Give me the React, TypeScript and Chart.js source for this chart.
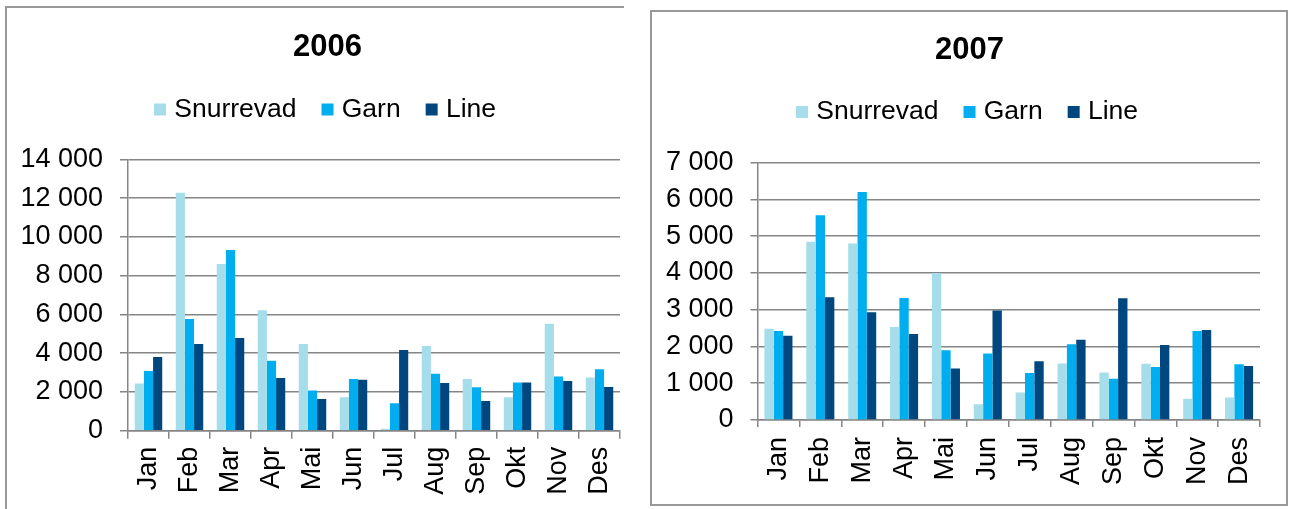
import React, { useEffect, useRef } from "react";
import { Chart, registerables } from "chart.js";

Chart.register(...registerables);

// ---------- data ----------
const months = ["Jan", "Feb", "Mar", "Apr", "Mai", "Jun", "Jul", "Aug", "Sep", "Okt", "Nov", "Des"];
const seriesNames = ["Snurrevad", "Garn", "Line"];
const seriesColors = ["#A5DEEA", "#00AEEF", "#00467F"];

const snurrevad2006 = [2430, 12280, 8600, 6210, 4470, 1720, 100, 4370, 2670, 1720, 5520, 2740];
const garn2006 = [3080, 5760, 9320, 3610, 2080, 2670, 1410, 2940, 2240, 2490, 2800, 3170];
const line2006 = [3800, 4470, 4780, 2720, 1630, 2630, 4160, 2460, 1530, 2490, 2560, 2250];

const snurrevad2007 = [2480, 4850, 4800, 2530, 4000, 430, 750, 1540, 1290, 1530, 580, 610];
const garn2007 = [2420, 5570, 6200, 3320, 1900, 1810, 1280, 2060, 1120, 1440, 2420, 1520];
const line2007 = [2290, 3340, 2930, 2340, 1400, 2980, 1600, 2180, 3310, 2040, 2450, 1470];

const yMax2006 = 14000;
const yStep2006 = 2000;
const yMax2007 = 7000;
const yStep2007 = 1000;

// ---------- styling ----------
const FONT = "'Liberation Sans', Arial, 'DejaVu Sans', sans-serif";
const GRID = "#858585";
const TICK_SIZE = 27;
const LEGEND_SIZE = 26.5;

const fmt = (v: number | string) => String(v).replace(/\B(?=(\d{3})+(?!\d))/g, " ");

type Layout = {
  width: number;
  height: number;
  yW: number;
  rightW: number;
  xH: number;
  spacer: number;
  titleTop: number;
  titleBottom: number;
  xPad: number;
  tickLen: number;
};

function legendLabels(chart: any) {
  const base = Chart.defaults.plugins.legend.labels.generateLabels(chart);
  // thin core box + wide stroke of the same colour -> a 12px square with a tight gap to the text
  return base.map((item: any) => ({
    ...item,
    lineWidth: 10,
    strokeStyle: item.fillStyle,
    lineJoin: "miter",
  }));
}

function makeConfig(title: string, values: number[][], yMax: number, yStep: number, L: Layout): any {
  return {
    type: "bar",
    data: {
      labels: months,
      datasets: seriesNames.map((name, i) => ({
        label: name,
        data: values[i],
        backgroundColor: seriesColors[i],
        borderWidth: 0,
        xAxisID: "x",
        yAxisID: "y",
        categoryPercentage: 0.67,
        barPercentage: 1,
      })),
    },
    options: {
      animation: false,
      responsive: false,
      maintainAspectRatio: false,
      devicePixelRatio: 1,
      events: [],
      layout: { padding: 0 },
      plugins: {
        title: {
          display: true,
          text: title,
          color: "#000",
          font: { family: FONT, size: 31, weight: "bold", lineHeight: 1.0 },
          padding: { top: L.titleTop, bottom: L.titleBottom },
        },
        legend: {
          display: true,
          position: "top",
          labels: {
            color: "#000",
            font: { family: FONT, size: LEGEND_SIZE },
            boxWidth: 2,
            boxHeight: 2,
            padding: 30,
            generateLabels: legendLabels,
          },
        },
        tooltip: { enabled: false },
      },
      scales: {
        x: {
          type: "category",
          position: "bottom",
          offset: true,
          grid: {
            display: true,
            drawOnChartArea: false,
            drawTicks: true,
            tickLength: L.tickLen,
            color: GRID,
            lineWidth: 1.5,
            offset: true,
          },
          border: { display: true, color: GRID, width: 1.5 },
          ticks: {
            color: "#000",
            font: { family: FONT, size: TICK_SIZE },
            minRotation: 90,
            maxRotation: 90,
            autoSkip: false,
            padding: L.xPad,
          },
          afterFit: (s: any) => {
            s.height = L.xH;
          },
        },
        xTop: {
          type: "category",
          position: "top",
          display: true,
          grid: { display: false },
          border: { display: false },
          ticks: { display: false },
          afterFit: (s: any) => {
            s.height = L.spacer;
          },
        },
        y: {
          type: "linear",
          position: "left",
          min: 0,
          max: yMax,
          ticks: {
            stepSize: yStep,
            color: "#000",
            font: { family: FONT, size: TICK_SIZE },
            padding: 17,
            callback: (v: number) => fmt(v),
          },
          grid: { color: GRID, lineWidth: 1.5, tickLength: L.tickLen, drawTicks: true },
          border: { display: true, color: GRID, width: 1.5 },
          afterFit: (s: any) => {
            s.width = L.yW;
          },
        },
        yRight: {
          type: "linear",
          position: "right",
          display: true,
          grid: { display: false },
          border: { display: false },
          ticks: { display: false },
          afterFit: (s: any) => {
            s.width = L.rightW;
          },
        },
      },
    },
  };
}

function BarChart(props: {
  title: string;
  values: number[][];
  yMax: number;
  yStep: number;
  layout: Layout;
  left: number;
  top: number;
}) {
  const ref = useRef<HTMLCanvasElement | null>(null);
  useEffect(() => {
    if (!ref.current) return;
    const chart = new Chart(ref.current, makeConfig(props.title, props.values, props.yMax, props.yStep, props.layout));
    return () => chart.destroy();
  }, []);
  const L = props.layout;
  return (
    <canvas
      ref={ref}
      width={L.width}
      height={L.height}
      style={{ position: "absolute", left: props.left, top: props.top, width: L.width, height: L.height }}
    />
  );
}

const layout2006: Layout = {
  width: 655,
  height: 509,
  yW: 128,
  rightW: 35,
  xH: 78.3,
  spacer: 26.55,
  titleTop: 31.5,
  titleBottom: 3.75,
  xPad: 8,
  tickLen: 8,
};

const layout2007: Layout = {
  width: 637,
  height: 509,
  yW: 106.5,
  rightW: 28,
  xH: 89,
  spacer: 27.45,
  titleTop: 34.5,
  titleBottom: 3.25,
  xPad: 10,
  tickLen: 7,
};

export default function App() {
  return (
    <div
      style={{
        position: "absolute",
        left: 0,
        top: 0,
        width: 1289,
        height: 509,
        overflow: "hidden",
        background: "#fff",
      }}
    >
      <div
        style={{
          position: "absolute",
          left: 5,
          top: 6,
          width: 660,
          height: 530,
          border: "2px solid #999",
          boxSizing: "border-box",
        }}
      />
      <BarChart
        title="2006"
        values={[snurrevad2006, garn2006, line2006]}
        yMax={yMax2006}
        yStep={yStep2006}
        layout={layout2006}
        left={0}
        top={0}
      />
      <div style={{ position: "absolute", left: 624, top: 0, width: 665, height: 509, background: "#fff" }} />
      <div
        style={{
          position: "absolute",
          left: 650,
          top: 10,
          width: 638,
          height: 496,
          border: "2px solid #999",
          boxSizing: "border-box",
        }}
      />
      <BarChart
        title="2007"
        values={[snurrevad2007, garn2007, line2007]}
        yMax={yMax2007}
        yStep={yStep2007}
        layout={layout2007}
        left={651}
        top={0}
      />
    </div>
  );
}
